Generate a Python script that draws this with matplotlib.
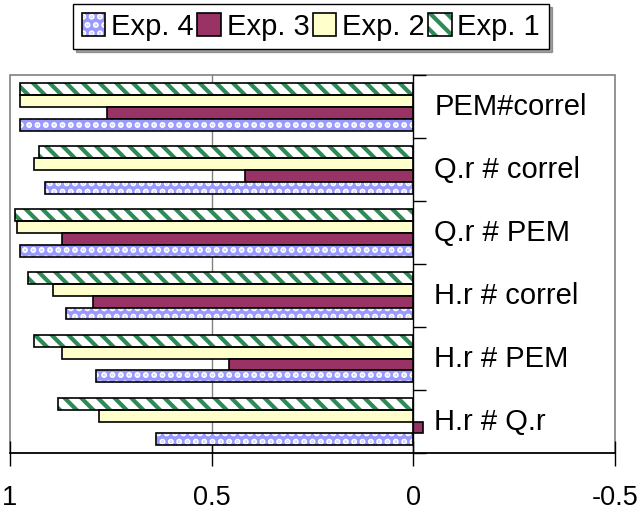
import matplotlib
matplotlib.use("Agg")
import matplotlib.pyplot as plt
from matplotlib.patches import Rectangle, Patch
from matplotlib.legend_handler import HandlerTuple
import numpy as np

plt.rcParams['font.family'] = ['Liberation Sans', 'DejaVu Sans']

categories = ["H.r # Q.r", "H.r # PEM", "H.r # correl", "Q.r # PEM", "Q.r # correl", "PEM#correl"]
exp1 = [0.88, 0.94, 0.955, 0.987, 0.927, 0.974]
exp2 = [0.78, 0.87, 0.894, 0.982, 0.94, 0.974]
exp3 = [-0.025, 0.456, 0.795, 0.87, 0.418, 0.759]
exp4 = [0.637, 0.786, 0.86, 0.974, 0.912, 0.974]
x_ticks = [1, 0.5, 0, -0.5]
x_tick_labels = ["1", "0.5", "0", "-0.5"]

green = "#2E8B57"
maroon = "#993366"
yellow = "#FFFFCC"
blue = "#9999FF"

fig = plt.figure(figsize=(6.4, 5.11), dpi=100)
ax = fig.add_axes([0.0156, 0.1135, 0.945, 0.7395])

y = np.arange(len(categories))
h = 0.19
offsets = [1.5 * h, 0.5 * h, -0.5 * h, -1.5 * h]

plt.rcParams['hatch.linewidth'] = 3.0
# Exp. 1: green diagonal stripes on white
ax.barh(y + offsets[0], exp1, height=h, color="white", edgecolor=green,
        hatch="\\\\", linewidth=0, zorder=3)
ax.barh(y + offsets[0], exp1, height=h, fill=False, edgecolor="black",
        linewidth=1.2, zorder=4)
# Exp. 2: pale yellow
ax.barh(y + offsets[1], exp2, height=h, color=yellow, edgecolor="black",
        linewidth=1.2, zorder=3)
# Exp. 3: maroon
ax.barh(y + offsets[2], exp3, height=h, color=maroon, edgecolor="black",
        linewidth=1.2, zorder=3)
# Exp. 4: blue with white dots
ax.barh(y + offsets[3], exp4, height=h, color=blue, edgecolor="white",
        hatch="..", linewidth=0, zorder=3)
ax.barh(y + offsets[3], exp4, height=h, fill=False, edgecolor="black",
        linewidth=1.2, zorder=4)

ax.set_xlim(1, -0.5)
ax.set_ylim(-0.5, len(categories) - 0.5)

# gray frame and grid line
ax.add_patch(Rectangle((0, 0), 1, 1, transform=ax.transAxes, fill=False,
                       edgecolor="#808080", linewidth=1.2, zorder=1, clip_on=False))
ax.axvline(0.5, color="#808080", linewidth=1.0, zorder=1)

for s in ["top", "right"]:
    ax.spines[s].set_visible(False)
ax.spines['left'].set_position(('data', 0))
ax.spines['left'].set_color("black")
ax.spines['left'].set_linewidth(1.0)
ax.spines['left'].set_zorder(5)
ax.spines['bottom'].set_color("black")
ax.spines['bottom'].set_linewidth(1.2)

ax.set_yticks(np.arange(len(categories) + 1) - 0.5)
ax.set_yticklabels([])
ax.tick_params(axis='y', direction='in', length=9, width=1.0, color="black")

ax.set_xticks(x_ticks)
ax.set_xticklabels(x_tick_labels, fontsize=19.5)
ax.tick_params(axis='x', direction='inout', length=18, width=1.0, pad=14)

for yi, name in zip(y, categories):
    ax.text(-0.052, yi, name, ha="left", va="center", fontsize=21, zorder=6)

h4 = (Patch(facecolor=blue, edgecolor="white", hatch="..", linewidth=0),
      Patch(fill=False, edgecolor="black", linewidth=1.2))
h3 = Patch(facecolor=maroon, edgecolor="black", linewidth=1.2)
h2 = Patch(facecolor=yellow, edgecolor="black", linewidth=1.2)
h1 = (Patch(facecolor="white", edgecolor=green, hatch="\\\\", linewidth=0),
      Patch(fill=False, edgecolor="black", linewidth=1.2))
leg = fig.legend([h4, h3, h2, h1], ["Exp. 4", "Exp. 3", "Exp. 2", "Exp. 1"],
                 handler_map={tuple: HandlerTuple(ndivide=1, pad=0)},
                 loc="center", bbox_to_anchor=(0.486, 0.948),
                 ncol=4, fontsize=21, frameon=True, fancybox=False, shadow=True,
                 handlelength=0.8, handleheight=0.8, handletextpad=0.2,
                 columnspacing=0.12, borderpad=0.3, borderaxespad=0,
                 edgecolor="black")
leg.get_frame().set_linewidth(1.0)

fig.savefig("out.png", dpi=100)
